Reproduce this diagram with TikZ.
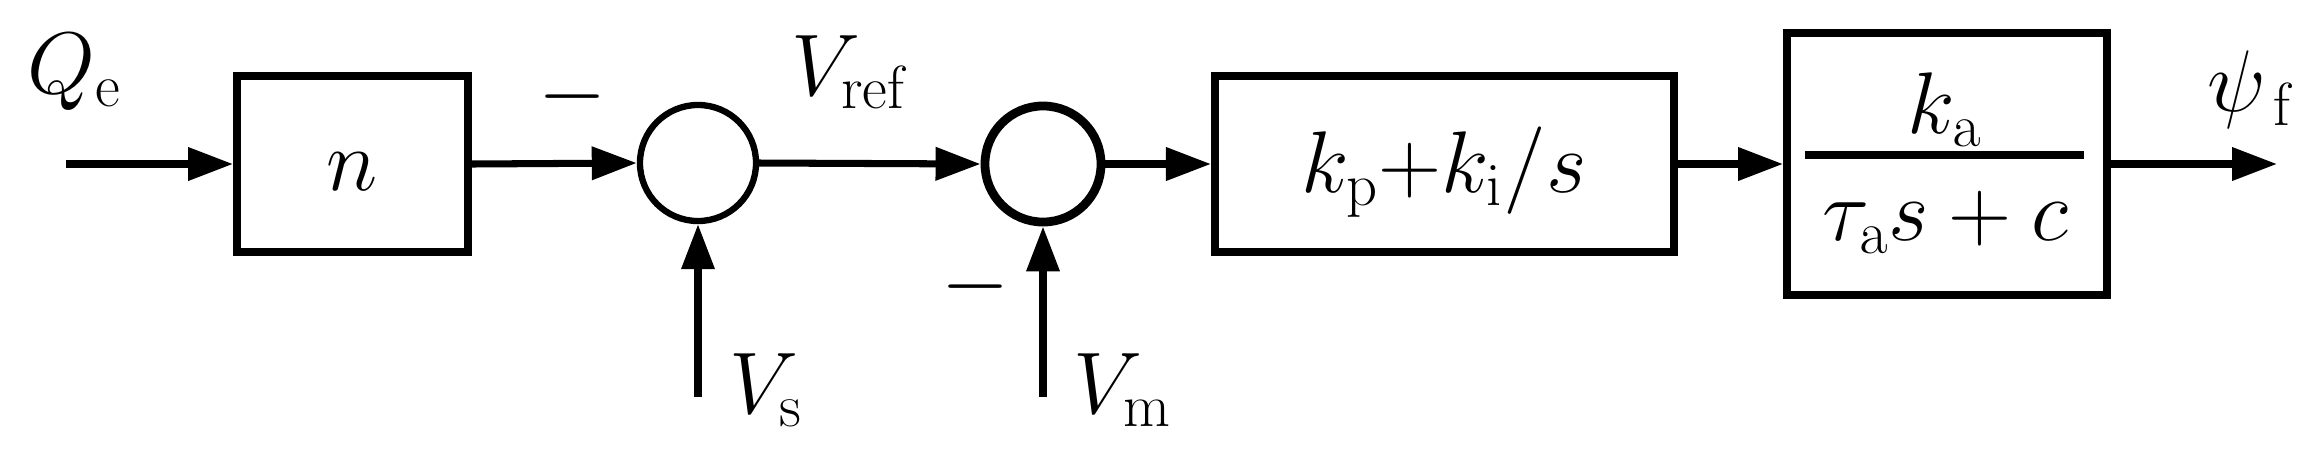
\documentclass[tikz,border=0pt]{standalone}
\usetikzlibrary{arrows.meta}
\begin{document}
\begin{tikzpicture}[x=0.01cm,y=-0.01cm,
  line width=2pt,
  blk/.style={draw,rectangle,inner sep=0pt,line width=2.2pt},
  sumc/.style={draw,circle,minimum size=1.16cm,inner sep=0pt,line width=1.8pt},
  sig/.style={-{Triangle[length=0.45cm,width=0.32cm]}},
  lbl/.style={font=\fontsize{27}{30}\selectfont,inner sep=0pt}]
\useasboundingbox (0,0) rectangle (2312,463);
\coordinate (in) at (66,164);
\node[blk,minimum width=2.31cm,minimum height=1.76cm] (n) at (352.5,164) {};
\node[lbl] at (352,172) {$n$};
\node[sumc] (s1) at (698,163) {};
\node[sumc,line width=2.5pt] (s2) at (1043,164) {};
\node[blk,minimum width=4.59cm,minimum height=1.76cm] (pi) at (1444.5,164) {};
\node[lbl] at (1444,172) {$k_{\mathrm{p}}{+}k_{\mathrm{i}}/s$};
\node[blk,minimum width=3.2cm,minimum height=2.62cm] (ex) at (1947,164) {};
\draw (1805,155) coordinate (fl) -- (2084,155) coordinate (fr);
\node[lbl] at (1945,110) {$k_{\mathrm{a}}$};
\node[lbl] at (1945,222) {$\tau_{\mathrm{a}}s+c$};
\coordinate (out) at (2277,164);
\coordinate (vs) at (698,397);
\coordinate (vm) at (1043,397);
\draw[sig] (in) -- (n.west);
\draw[sig] (n.east) -- (s1.west);
\draw[sig] (s1.east) -- (s2.west);
\draw[sig] (s2.east) -- (pi.west);
\draw[sig] (pi.east) -- (ex.west);
\draw[sig] (ex.east) -- (out);
\draw[sig] (vs) -- (s1.south);
\draw[sig] (vm) -- (s2.south);
\node[lbl,anchor=west] at (24,72) {$Q_{\mathrm{e}}$};
\node[lbl,anchor=west] at (788,72) {$V_{\mathrm{ref}}$};
\node[lbl,anchor=west] at (726,390) {$V_{\mathrm{s}}$};
\node[lbl,anchor=west] at (1070,390) {$V_{\mathrm{m}}$};
\node[lbl,anchor=west] at (2204,90) {$\psi_{\,\mathrm{f}}$};
\node[lbl] at (573,97) {$-$};
\node[lbl] at (976,287) {$-$};
\end{tikzpicture}
\end{document}
